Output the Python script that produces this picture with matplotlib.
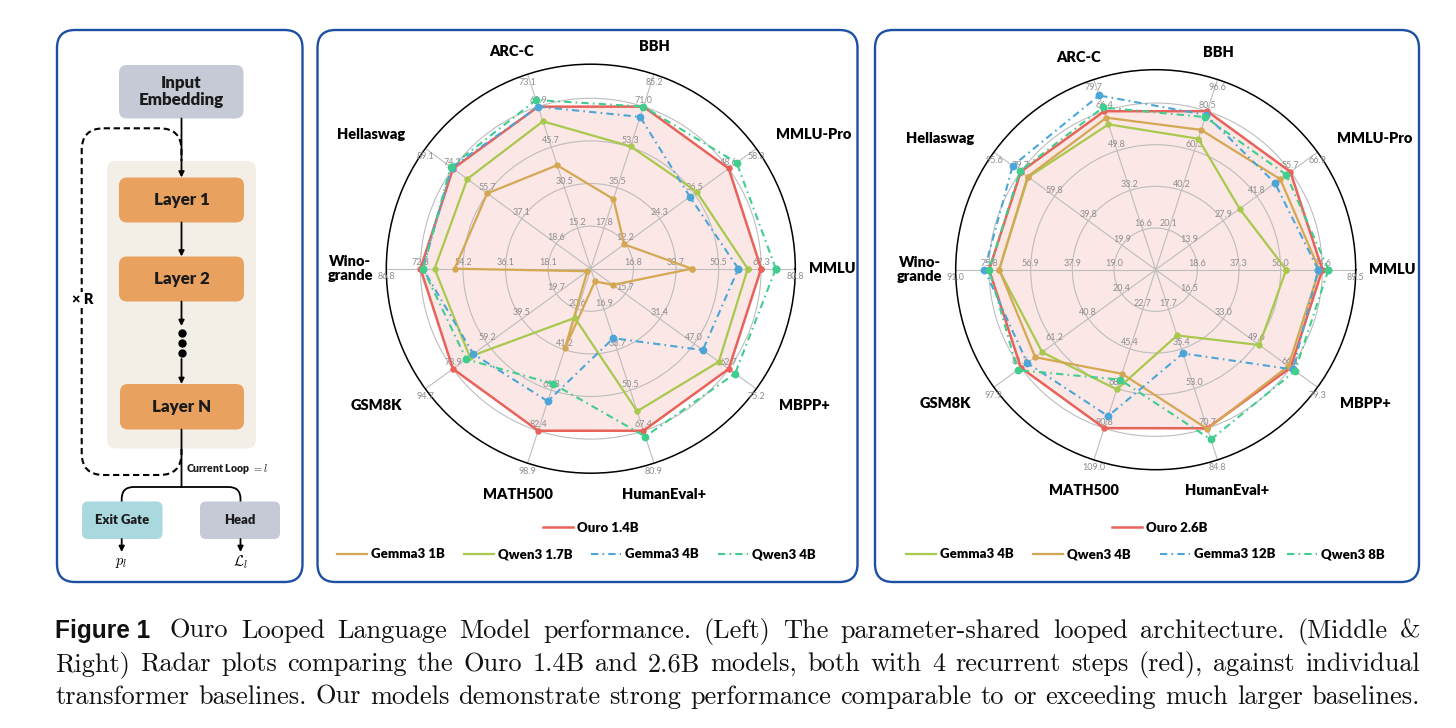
import numpy as np
import matplotlib
matplotlib.use("Agg")
import matplotlib.pyplot as plt
from matplotlib.lines import Line2D
from matplotlib.patches import FancyBboxPatch, PathPatch
from matplotlib.path import Path

W, H = 1456, 728

# ---- data ----------------------------------------------------------------
categories = ["MMLU", "MMLU-Pro", "BBH", "ARC-C", "Hellaswag", "Wino-\ngrande",
              "GSM8K", "MATH500", "HumanEval+", "MBPP+"]

# four ring labels + outer label for every axis (middle chart)
mid_ticks = [
    [16.8, 33.7, 50.5, 67.3, 80.8],
    [12.2, 24.3, 36.5, 48.6, 58.3],
    [17.8, 35.5, 53.3, 71.0, 85.2],
    [15.2, 30.5, 45.7, 60.9, 73.1],
    [18.6, 37.1, 55.7, 74.2, 89.1],
    [18.1, 36.1, 54.2, 72.3, 86.8],
    [19.7, 39.5, 59.2, 78.9, 94.7],
    [20.6, 41.2, 61.8, 82.4, 98.9],
    [16.9, 33.7, 50.5, 67.4, 80.9],
    [15.7, 31.4, 47.0, 62.7, 75.2],
]
# right chart
right_ticks = [
    [18.6, 37.3, 56.0, 74.6, 89.5],
    [13.9, 27.9, 41.8, 55.7, 66.9],
    [20.1, 40.2, 60.3, 80.5, 96.6],
    [16.6, 33.2, 49.8, 66.4, 79.7],
    [19.9, 39.8, 59.8, 79.7, 95.6],
    [19.0, 37.9, 56.9, 75.8, 91.0],
    [20.4, 40.8, 61.2, 81.6, 97.9],
    [22.7, 45.4, 68.1, 90.8, 109.0],
    [17.7, 35.4, 53.0, 70.7, 84.8],
    [16.5, 33.0, 49.6, 66.1, 79.3],
]

mid_names = ["Ouro 1.4B", "Gemma3 1B", "Qwen3 1.7B", "Gemma3 4B", "Qwen3 4B"]
ouro_14b = [67.3, 48.6, 71.0, 60.9, 74.2, 72.3, 78.9, 82.4, 67.4, 62.7]
gemma3_1b = [39.9, 11.8, 30.5, 38.9, 55.8, 57.8, 2.0, 40.5, 5.3, 10.1]
qwen3_1_7b = [62.0, 37.3, 53.6, 55.4, 66.5, 66.3, 69.3, 25.0, 59.3, 58.2]
gemma3_4b = [58.3, 34.9, 66.5, 60.9, 75.0, 71.3, 67.2, 67.4, 28.9, 50.9]
qwen3_4b = [73.1, 51.4, 71.0, 63.4, 75.5, 71.2, 71.3, 58.6, 69.8, 65.6]

right_names = ["Ouro 2.6B", "Gemma3 4B", "Qwen3 4B", "Gemma3 12B", "Qwen3 8B"]
ouro_26b = [74.6, 55.7, 80.5, 66.4, 79.7, 75.8, 81.6, 90.8, 70.7, 66.1]
gemma3_4b_r = [58.4, 34.7, 66.5, 60.9, 75.3, 71.3, 68.7, 68.6, 29.3, 50.8]
qwen3_4b_r = [73.2, 51.5, 71.0, 63.7, 75.7, 71.2, 72.9, 59.6, 71.0, 65.0]
gemma3_12b = [72.7, 49.3, 78.6, 73.0, 84.5, 77.9, 77.7, 83.9, 37.3, 67.3]
qwen3_8b = [77.3, 54.0, 77.5, 68.0, 80.2, 75.8, 83.6, 63.0, 75.7, 68.3]

caption = [
    "Ouro Looped Language Model performance. (Left) The parameter-shared "
    "looped architecture. (Middle &",
    "Right) Radar plots comparing the Ouro 1.4B and 2.6B models, both with 4 "
    "recurrent steps (red), against individual",
    "transformer baselines. Our models demonstrate strong performance "
    "comparable to or exceeding much larger baselines.",
]

# ---- styles ---------------------------------------------------------------
RED = "#e9625a"
TAN = "#d4a853"
LIME = "#a8c94e"
BLUE = "#4ba6d7"
TEAL = "#41cd8e"
BORDER = "#1d4fa3"
DASHDOT = (0, (3.5, 2.0, 0.8, 2.0))
SANS = "Lato"
HEAVY = "heavy"

plt.rcParams["mathtext.fontset"] = "cm"
plt.rcParams["font.family"] = [SANS, "DejaVu Sans"]

ring_levels = np.arange(1, 5) / 4.8

fig = plt.figure(figsize=(W / 100, H / 100), dpi=100)
bg = fig.add_axes([0, 0, 1, 1])
bg.set_xlim(0, W)
bg.set_ylim(H, 0)
bg.axis("off")


def panel(x0, y0, x1, y1):
    """Rounded blue frame around one panel (pixel coordinates)."""
    bg.add_patch(FancyBboxPatch((x0, y0), x1 - x0, y1 - y0,
                                boxstyle="round,pad=0,rounding_size=18",
                                fc="none", ec=BORDER, lw=1.7))


def box(x0, y0, x1, y1, color, text=None, size=11, rounding=8, z=2):
    bg.add_patch(FancyBboxPatch((x0, y0), x1 - x0, y1 - y0,
                                boxstyle=f"round,pad=0,rounding_size={rounding}",
                                fc=color, ec="none", zorder=z))
    if text:
        bg.text((x0 + x1) / 2, (y0 + y1) / 2, text, ha="center", va="center",
                fontsize=size, fontweight=HEAVY, color="#1b1b1b",
                linespacing=1.1, zorder=z + 1)


def arrow(x, ya, yb, head=True):
    bg.annotate("", xy=(x, yb), xytext=(x, ya),
                arrowprops=dict(arrowstyle="-|>" if head else "-",
                                color="black", lw=1.3, mutation_scale=8,
                                shrinkA=0, shrinkB=0), zorder=4)


def radar(center, radius, ticks, names, series, styles):
    """Draw one radar chart, each axis scaled by its own outer value."""
    cx, cy = center
    ax = fig.add_axes([(cx - radius) / W, 1 - (cy + radius) / H,
                       2 * radius / W, 2 * radius / H], projection="polar")
    theta = np.linspace(0, 2 * np.pi, len(categories), endpoint=False)
    outer = np.array([t[-1] for t in ticks])

    ax.set_ylim(0, 1)
    ax.set_xticks(theta)
    ax.set_xticklabels([])
    ax.set_yticks(ring_levels)
    ax.set_yticklabels([])
    ax.tick_params(length=0)
    ax.grid(color="#bdbdbd", lw=0.8)
    ax.spines["polar"].set_color("black")
    ax.spines["polar"].set_linewidth(1.1)

    # ring / outer labels of each axis
    for i, th in enumerate(theta):
        for k in range(4):
            ax.annotate(f"{ticks[i][k]:.1f}", (th, ring_levels[k]),
                        xytext=(0, 1.2), textcoords="offset points",
                        ha="center", va="bottom", fontsize=6.5,
                        color="#8e8e8e", annotation_clip=False)
        ax.annotate(f"{ticks[i][4]:.1f}", (th, 1.0), xytext=(0, -2.5),
                    textcoords="offset points", ha="center", va="top",
                    fontsize=6.5, color="#8e8e8e", annotation_clip=False)

    # category labels
    for th, name in zip(theta, categories):
        c, s = np.cos(th), np.sin(th)
        if abs(c) > 0.95:
            rr, ha, tl = 1.065, ("left" if c > 0 else "right"), th
        elif abs(c) > 0.5:
            rr, ha, tl = (1.12 if s > 0 else 1.14), ("left" if c > 0 else "right"), th
        elif s > 0:
            rr, ha, tl = 1.13, "center", th + np.radians(2.0)
        else:
            rr, ha, tl = 1.16, "center", th
        ax.text(tl, rr, name, ha=ha, va="center", fontsize=10.5, fontweight=HEAVY,
                multialignment="center", linespacing=1.05, clip_on=False)

    th_closed = np.append(theta, theta[0])
    handles = []
    for vals, (color, ls, lw, ms), name in zip(series, styles, names):
        r = np.asarray(vals) / outer
        r = np.append(r, r[0])
        if name.startswith("Ouro"):
            ax.fill(th_closed, r, color=color, alpha=0.15, lw=0, zorder=1)
        ax.plot(th_closed, r, color=color, ls=ls, lw=lw, marker="o", ms=ms,
                zorder=3)
        handles.append(Line2D([], [], color=color, ls=ls, lw=lw))
    return handles


def legends(handles, names, cx, y_top, y_bottom, col_width=127):
    prop = dict(family=SANS, weight=HEAVY, size=9.5)
    kw = dict(frameon=False, prop=prop, handlelength=2.3, handletextpad=0.3,
              borderpad=0, borderaxespad=0)
    fig.legend([handles[0]], [names[0]], loc="center",
               bbox_to_anchor=(cx / W, 1 - y_top / H), **kw)
    x0 = cx - 2 * col_width
    for k in range(1, len(names)):
        fig.legend([handles[k]], [names[k]], loc="center left",
                   bbox_to_anchor=((x0 + (k - 1) * col_width) / W, 1 - y_bottom / H),
                   **kw)


# ---- frames ---------------------------------------------------------------
panel(57, 30, 302.5, 582)
panel(317.5, 30, 857.5, 582)
panel(875, 30, 1419, 582)

# ---- left: looped architecture diagram ----------------------------------------
xc = 181.5
bg.add_patch(FancyBboxPatch((81.7, 128.3), xc - 81.7, 475 - 128.3,
                            boxstyle="round,pad=0,rounding_size=22", fc="none",
                            ec="black", lw=1.5, ls=(0, (3, 1.8)), zorder=1))
box(107, 161, 256, 448.5, "#f3efe6", rounding=9, z=1.5)
box(119, 65, 243.5, 118.5, "#c5cad6", "Input\nEmbedding", size=12.2)
box(119, 177.5, 244, 222.5, "#e8a15f", "Layer 1", size=12.2)
box(119, 256.5, 244, 301.5, "#e8a15f", "Layer 2", size=12.2)
box(120, 384, 244, 429.5, "#e8a15f", "Layer N", size=12.2)
box(82, 501.5, 162.5, 539, "#a9d8df", "Exit Gate", size=9.4, rounding=6)
box(200, 501.5, 280, 539, "#c5cad6", "Head", size=9.4, rounding=6)

arrow(xc, 118.5, 177.5)
arrow(xc, 222.5, 256.5)
arrow(xc, 301.5, 326)
arrow(xc, 359, 384)
bg.plot([xc] * 3, [332.5, 342.5, 352.5], "o", color="black", ms=5, zorder=4)
arrow(xc, 429.5, 487, head=False)

rr = 12
branch = Path([(121.7, 501.5), (121.7, 487 + rr), (121.7, 487), (121.7 + rr, 487),
               (240.5 - rr, 487), (240.5, 487), (240.5, 487 + rr), (240.5, 501.5)],
              [Path.MOVETO, Path.LINETO, Path.CURVE3, Path.CURVE3,
               Path.LINETO, Path.CURVE3, Path.CURVE3, Path.LINETO])
bg.add_patch(PathPatch(branch, fc="none", ec="black", lw=1.3, zorder=4))
arrow(121.7, 539, 552)
arrow(240.5, 539, 552)
bg.text(121.7, 563, r"$p_l$", ha="center", va="center", fontsize=10.5)
bg.text(240.5, 562, r"$\mathcal{L}_l$", ha="center", va="center", fontsize=10.5)
bg.text(186.5, 469.5, r"Current Loop $= l$", ha="left", va="center",
        fontsize=7.6, fontweight=HEAVY, color="#1b1b1b")
bg.text(82.2, 300, "× R", ha="center", va="center", fontsize=10.5,
        fontweight=HEAVY, zorder=5,
        bbox=dict(boxstyle="square,pad=0.1", fc="white", ec="none"))

# ---- radar charts ---------------------------------------------------------
solid = lambda c: (c, "-", 1.6, 3.6)
dashed = lambda c: (c, DASHDOT, 1.5, 4.6)
ouro = (RED, "-", 1.8, 3.6)

h_mid = radar((590.8, 268.7), 204.5, mid_ticks, mid_names,
              [ouro_14b, gemma3_1b, qwen3_1_7b, gemma3_4b, qwen3_4b],
              [ouro, solid(TAN), solid(LIME), dashed(BLUE), dashed(TEAL)])
legends(h_mid, mid_names, 590.8, 527.5, 554.5)

h_right = radar((1155.7, 269.7), 200.0, right_ticks, right_names,
                [ouro_26b, gemma3_4b_r, qwen3_4b_r, gemma3_12b, qwen3_8b],
                [ouro, solid(LIME), solid(TAN), dashed(BLUE), dashed(TEAL)])
legends(h_right, right_names, 1160, 527.5, 554.5)

# ---- caption, justified between two margins ------------------------------------
renderer = fig.canvas.get_renderer()
serif = dict(family=["cmr10", "DejaVu Serif"])
x_left, x_right = 55, 1420
baselines = [638, 671, 704]


def measure(tokens, size):
    widths = []
    for text, font, scale in tokens:
        t = bg.text(0, 0, text, fontsize=size * scale, **font)
        widths.append(t.get_window_extent(renderer).width)
        t.remove()
    return widths


lines = []
for i, line in enumerate(caption):
    toks = [(w, serif, 1.0) for w in line.split(" ")]
    if i == 0:
        toks.insert(0, ("Figure 1", dict(family=["Liberation Sans"], weight="bold"), 0.93))
    lines.append(toks)

# pick the size so the widest line fits with normal word spaces
base = 18.0
space = measure([("a a", serif, 1.0)], base)[0] - 2 * measure([("a", serif, 1.0)], base)[0]
natural = [sum(measure(t, base)) + space * (len(t) - 1) for t in lines]
size = base * (x_right - x_left) / max(natural)

for toks, yb in zip(lines, baselines):
    widths = measure(toks, size)
    gaps = [1.0] * (len(toks) - 1)
    if toks[0][0] == "Figure 1":
        gaps[0] = 1.6
    unit = (x_right - x_left - sum(widths)) / sum(gaps)
    x = x_left
    for k, ((text, font, scale), w) in enumerate(zip(toks, widths)):
        bg.text(x, yb, text, fontsize=size * scale, ha="left", va="baseline",
                color="#111111", **font)
        if k < len(gaps):
            x += w + unit * gaps[k]

fig.savefig("out.png", dpi=100, facecolor="white")
